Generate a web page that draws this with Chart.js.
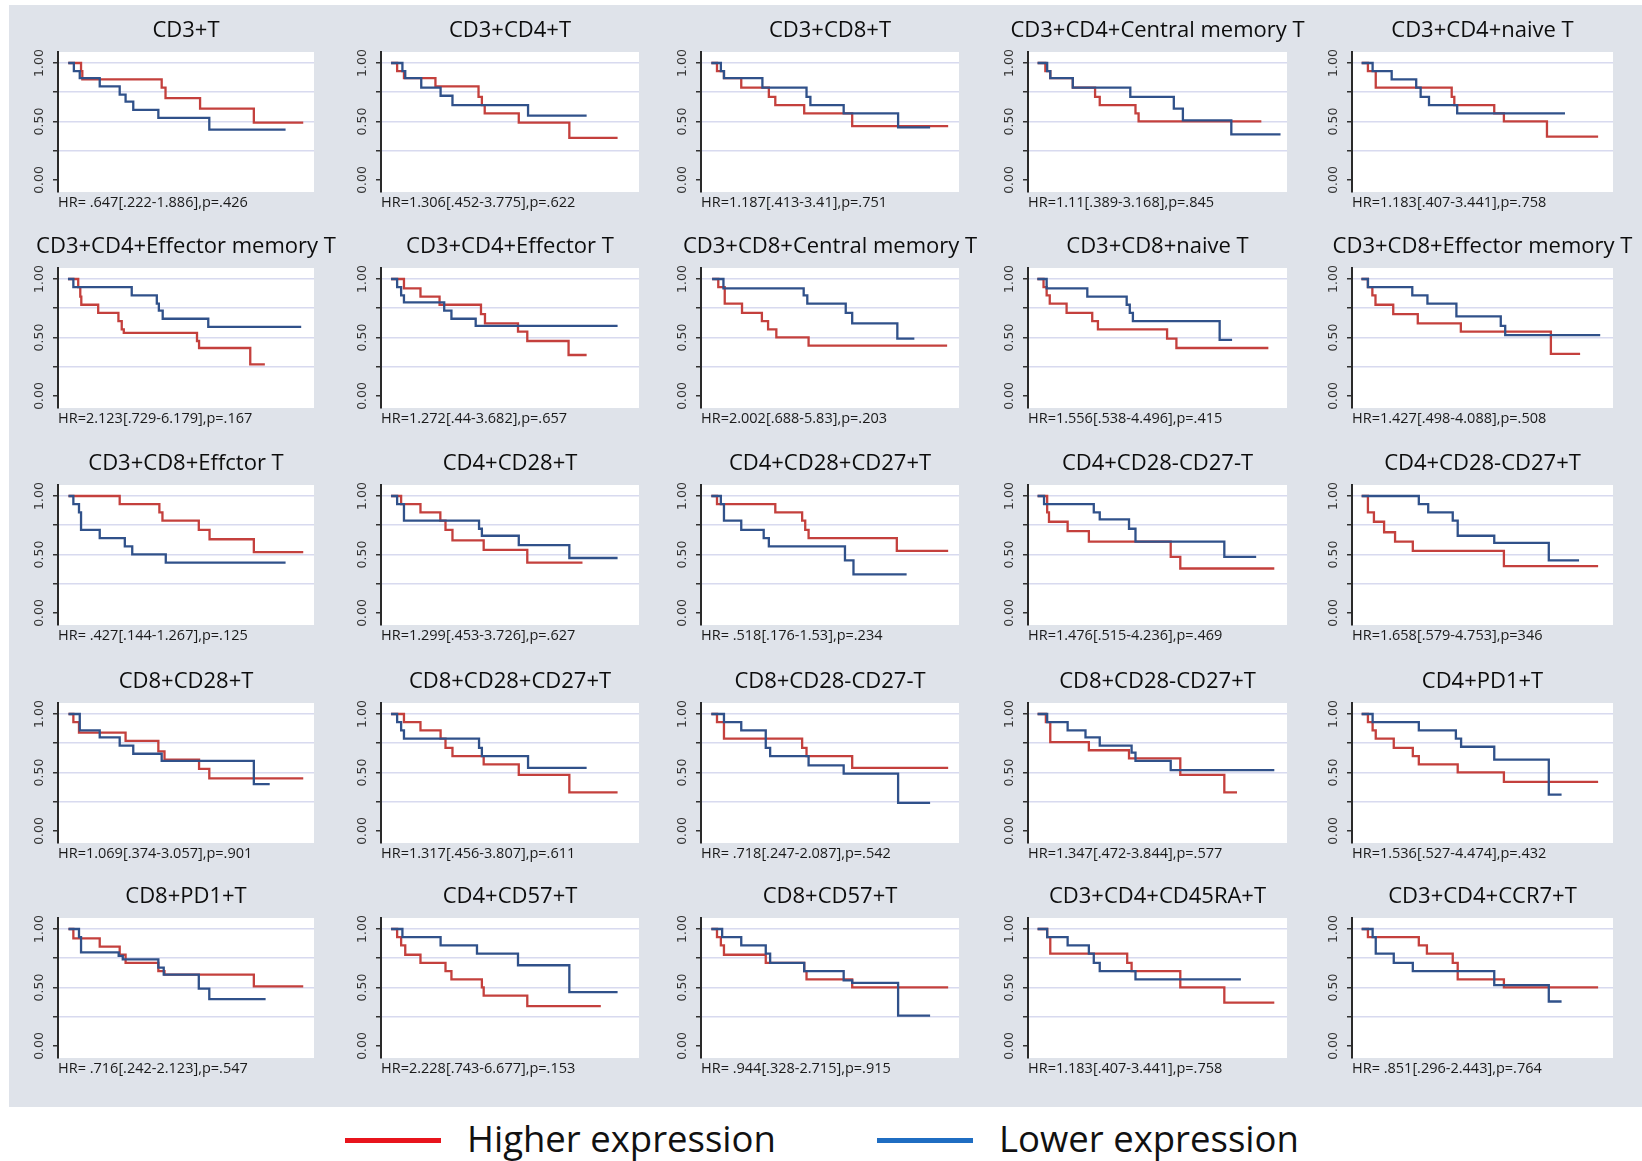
<!DOCTYPE html>
<html>
<head>
<meta charset="utf-8">
<script src="https://cdn.jsdelivr.net/npm/chart.js@4.4.1/dist/chart.umd.min.js"></script>
<style>
  body { margin: 0; width: 1642px; height: 1161px; background: #fff; position: relative; overflow: hidden; }
  #bg { position: absolute; left: 9px; top: 5px; width: 1633px; height: 1102px; background: #dfe3ea; }
  canvas.km { position: absolute; }
  .leg { position: absolute; top: 1114px; font-family: 'Open Sans', sans-serif; font-size: 36.5px; color: #111; line-height: 48px; }
  .leg span.bar { display: inline-block; width: 96px; height: 5px; vertical-align: middle; margin-right: 26px; position: relative; top: -2px; }
</style>
</head>
<body>
<div id="bg"></div>
<div class="leg" style="left:345px"><span class="bar" style="background:#e8141c"></span>Higher expression</div>
<div class="leg" style="left:877px"><span class="bar" style="background:#1f6dc2"></span>Lower expression</div>
<script>
// Kaplan-Meier panels, 5 x 5
const titles = [
  'CD3+T', 'CD3+CD4+T', 'CD3+CD8+T', 'CD3+CD4+Central memory T', 'CD3+CD4+naive T',
  'CD3+CD4+Effector memory T', 'CD3+CD4+Effector T', 'CD3+CD8+Central memory T', 'CD3+CD8+naive T', 'CD3+CD8+Effector memory T',
  'CD3+CD8+Effctor T', 'CD4+CD28+T', 'CD4+CD28+CD27+T', 'CD4+CD28-CD27-T', 'CD4+CD28-CD27+T',
  'CD8+CD28+T', 'CD8+CD28+CD27+T', 'CD8+CD28-CD27-T', 'CD8+CD28-CD27+T', 'CD4+PD1+T',
  'CD8+PD1+T', 'CD4+CD57+T', 'CD8+CD57+T', 'CD3+CD4+CD45RA+T', 'CD3+CD4+CCR7+T'
];

const hrLabels = [
  'HR= .647[.222-1.886],p=.426', 'HR=1.306[.452-3.775],p=.622', 'HR=1.187[.413-3.41],p=.751', 'HR=1.11[.389-3.168],p=.845', 'HR=1.183[.407-3.441],p=.758',
  'HR=2.123[.729-6.179],p=.167', 'HR=1.272[.44-3.682],p=.657', 'HR=2.002[.688-5.83],p=.203', 'HR=1.556[.538-4.496],p=.415', 'HR=1.427[.498-4.088],p=.508',
  'HR= .427[.144-1.267],p=.125', 'HR=1.299[.453-3.726],p=.627', 'HR= .518[.176-1.53],p=.234', 'HR=1.476[.515-4.236],p=.469', 'HR=1.658[.579-4.753],p=346',
  'HR=1.069[.374-3.057],p=.901', 'HR=1.317[.456-3.807],p=.611', 'HR= .718[.247-2.087],p=.542', 'HR=1.347[.472-3.844],p=.577', 'HR=1.536[.527-4.474],p=.432',
  'HR= .716[.242-2.123],p=.547', 'HR=2.228[.743-6.677],p=.153', 'HR= .944[.328-2.715],p=.915', 'HR=1.183[.407-3.441],p=.758', 'HR= .851[.296-2.443],p=.764'
];

// higher expression (red): step times and survival
const highTime = [
  [4, 9, 9.5, 40.5, 42, 55.5, 76.5, 95.8],
  [3.9, 6.25, 8.9, 21.1, 37.8, 39.1, 40.2, 53.4, 73, 91.7],
  [4, 6.2, 8.9, 15.6, 26.3, 28.8, 40, 58.6, 95.8],
  [3.7, 6.7, 8.6, 17.3, 25.9, 27.7, 41.5, 42.7, 90.1],
  [3.7, 6.1, 9.1, 38.2, 39.2, 54.5, 58.2, 74.7, 94.3],
  [3.9, 7.9, 8.7, 9.1, 15.7, 23.6, 24.9, 25.7, 54.3, 55.1, 75.1, 80.8],
  [3.9, 8.9, 15.3, 22.7, 38.75, 40.3, 53.1, 56.7, 72.7, 79.7],
  [4.3, 6.7, 9.2, 15.9, 23.6, 26, 29.2, 41.7, 95.4],
  [3.6, 6, 7.2, 8.4, 14.9, 24.8, 27, 53.7, 57.3, 92.8],
  [3.6, 6.1, 7.8, 9, 15.8, 25.2, 41.7, 76.2, 87.4],
  [4.1, 24.1, 39.6, 40.8, 55, 59.2, 76.5, 95.8],
  [3.9, 7.8, 15.3, 23, 25, 27.7, 39.8, 56.7, 78.1],
  [4, 6.2, 28.8, 39.2, 40.4, 41.7, 75.9, 95.8],
  [3.7, 7.4, 8.1, 15.3, 23.5, 55.1, 58.8, 95.1],
  [3.7, 6.1, 8.4, 12.3, 16.5, 23.3, 58.2, 94.3],
  [4.1, 6, 8.2, 26.4, 39.2, 41.6, 55.1, 59.1, 95.8],
  [3.9, 8.9, 15.3, 23.1, 25, 27.7, 39.8, 53.4, 73, 91.7],
  [4, 6.2, 8.9, 39.2, 40.9, 58.6, 95.8],
  [3.7, 6.9, 8.6, 23.5, 39, 58.8, 75.8, 80.7],
  [3.7, 6.1, 7.9, 9.1, 16, 23.3, 25.6, 40.5, 58.2, 94.3],
  [4.1, 6, 16.3, 24.1, 26.4, 39.2, 41.6, 76.5, 95.8],
  [3.9, 6.25, 7.8, 9.4, 15.3, 25, 27.3, 39.1, 39.8, 56.7, 85.2],
  [4, 6.2, 7.7, 8.9, 25.1, 40, 40.9, 58.6, 95.8],
  [3.7, 7.4, 8.6, 38.3, 40, 58.8, 75.8, 95.1],
  [3.7, 6.1, 25.6, 28.7, 38.6, 40.5, 58.2, 94.3]
];
const highSurv = [
  [1, 0.93, 0.86, 0.79, 0.70, 0.61, 0.49, 0.49],
  [1, 0.93, 0.87, 0.80, 0.71, 0.64, 0.57, 0.49, 0.36, 0.36],
  [1, 0.93, 0.87, 0.79, 0.71, 0.64, 0.57, 0.46, 0.46],
  [1, 0.93, 0.87, 0.79, 0.71, 0.64, 0.57, 0.50, 0.50],
  [1, 0.93, 0.79, 0.71, 0.64, 0.57, 0.50, 0.37, 0.37],
  [1, 0.93, 0.85, 0.78, 0.71, 0.64, 0.57, 0.54, 0.47, 0.41, 0.27, 0.27],
  [1, 0.92, 0.85, 0.78, 0.70, 0.62, 0.55, 0.47, 0.35, 0.35],
  [1, 0.93, 0.79, 0.71, 0.64, 0.57, 0.50, 0.43, 0.43],
  [1, 0.93, 0.86, 0.79, 0.71, 0.64, 0.57, 0.49, 0.41, 0.41],
  [1, 0.93, 0.86, 0.78, 0.70, 0.62, 0.55, 0.36, 0.36],
  [1, 0.93, 0.86, 0.79, 0.71, 0.63, 0.52, 0.52],
  [1, 0.93, 0.86, 0.79, 0.71, 0.62, 0.54, 0.43, 0.43],
  [1, 0.93, 0.86, 0.79, 0.71, 0.64, 0.53, 0.53],
  [1, 0.86, 0.78, 0.70, 0.61, 0.48, 0.38, 0.38],
  [1, 0.86, 0.78, 0.69, 0.61, 0.53, 0.40, 0.40],
  [1, 0.93, 0.84, 0.77, 0.68, 0.61, 0.53, 0.45, 0.45],
  [1, 0.93, 0.86, 0.79, 0.71, 0.64, 0.57, 0.48, 0.33, 0.33],
  [1, 0.93, 0.79, 0.71, 0.64, 0.54, 0.54],
  [1, 0.93, 0.76, 0.69, 0.62, 0.48, 0.33, 0.33],
  [1, 0.93, 0.86, 0.79, 0.71, 0.64, 0.57, 0.50, 0.42, 0.42],
  [1, 0.92, 0.85, 0.78, 0.71, 0.64, 0.61, 0.51, 0.51],
  [1, 0.93, 0.86, 0.78, 0.71, 0.64, 0.57, 0.50, 0.43, 0.34, 0.34],
  [1, 0.93, 0.86, 0.78, 0.71, 0.64, 0.57, 0.50, 0.50],
  [1, 0.93, 0.79, 0.71, 0.64, 0.50, 0.37, 0.37],
  [1, 0.93, 0.86, 0.79, 0.71, 0.57, 0.50, 0.50]
];

// lower expression (blue)
const lowTime = [
  [4, 6.2, 8.5, 16.3, 24.1, 26.4, 29.4, 39.2, 59.1, 88.9],
  [3.9, 8.3, 9.4, 15.6, 23.1, 27.7, 57, 79.7],
  [4, 7.7, 8.9, 23.8, 40.9, 42.4, 55.3, 76.4, 88.8],
  [3.7, 7.4, 8.6, 17.3, 39.5, 56.3, 59.8, 78.5, 97.5],
  [3.7, 7.9, 15.2, 24.6, 26.3, 29.5, 40.3, 81.6],
  [3.9, 6, 28.8, 38.6, 39.4, 40.9, 58.7, 95],
  [3.9, 6.25, 7.8, 8.9, 24.5, 27.3, 36.7, 91.7],
  [4.3, 8.7, 39.8, 41.2, 56.1, 58.6, 76.1, 82.7],
  [3.6, 7.2, 22.9, 38.1, 39.3, 40.5, 74, 78.8],
  [3.6, 6.1, 23.1, 28.9, 40, 57, 58.7, 95.1],
  [4.1, 6, 8.2, 9, 16.3, 26.1, 29, 42.1, 88.9],
  [3.9, 6.25, 8.9, 38, 39.1, 53.4, 73, 91.7],
  [4, 7.7, 8.9, 15.6, 24.3, 26.3, 55.8, 59.1, 79.7],
  [3.7, 6.2, 25.4, 27.7, 39, 41.5, 75.8, 88.1],
  [3.7, 25.6, 29.2, 38.6, 40.5, 54.5, 75.4, 87],
  [4.1, 8.5, 16.3, 24.1, 29.4, 40.5, 76.5, 82.7],
  [3.9, 6.25, 7.8, 8.9, 38, 39.1, 57, 79.7],
  [4, 8.9, 15.6, 25.1, 26.8, 41.7, 55.3, 76.4, 88.8],
  [3.7, 7.4, 15.3, 22.2, 27.7, 40, 41.5, 55.1, 95.1],
  [3.7, 7.9, 25.6, 39.8, 41.8, 54.5, 75.4, 80.3],
  [4.1, 8.2, 9, 23.7, 25.3, 39.2, 41.3, 55, 59.1, 81.1],
  [3.9, 8.3, 23.1, 37.2, 53.1, 73, 91.7],
  [4, 8.2, 15.6, 25.1, 26.8, 40, 55.3, 58.6, 76.4, 88.8],
  [3.7, 7.4, 15.3, 23.5, 25.4, 27.7, 41.5, 82.2],
  [3.7, 7.9, 9.1, 16, 23.3, 54.5, 75.4, 80.3]
];
const lowSurv = [
  [1, 0.93, 0.87, 0.80, 0.73, 0.67, 0.60, 0.53, 0.43, 0.43],
  [1, 0.93, 0.87, 0.79, 0.72, 0.64, 0.55, 0.55],
  [1, 0.93, 0.87, 0.79, 0.71, 0.64, 0.57, 0.45, 0.45],
  [1, 0.93, 0.87, 0.79, 0.71, 0.61, 0.51, 0.39, 0.39],
  [1, 0.93, 0.86, 0.79, 0.71, 0.64, 0.57, 0.57],
  [1, 0.93, 0.86, 0.79, 0.73, 0.66, 0.59, 0.59],
  [1, 0.93, 0.86, 0.80, 0.73, 0.66, 0.60, 0.60],
  [1, 0.92, 0.86, 0.79, 0.71, 0.62, 0.49, 0.49],
  [1, 0.92, 0.85, 0.78, 0.71, 0.64, 0.48, 0.48],
  [1, 0.93, 0.86, 0.79, 0.68, 0.60, 0.52, 0.52],
  [1, 0.93, 0.86, 0.71, 0.64, 0.57, 0.50, 0.43, 0.43],
  [1, 0.93, 0.79, 0.72, 0.66, 0.58, 0.47, 0.47],
  [1, 0.93, 0.79, 0.71, 0.64, 0.57, 0.45, 0.33, 0.33],
  [1, 0.93, 0.86, 0.80, 0.72, 0.61, 0.48, 0.48],
  [1, 0.93, 0.86, 0.79, 0.66, 0.60, 0.45, 0.45],
  [1, 0.86, 0.80, 0.73, 0.66, 0.60, 0.40, 0.40],
  [1, 0.93, 0.86, 0.79, 0.71, 0.64, 0.54, 0.54],
  [1, 0.93, 0.86, 0.71, 0.64, 0.56, 0.49, 0.24, 0.24],
  [1, 0.93, 0.86, 0.80, 0.73, 0.67, 0.60, 0.52, 0.52],
  [1, 0.93, 0.86, 0.79, 0.72, 0.61, 0.31, 0.31],
  [1, 0.93, 0.80, 0.77, 0.74, 0.67, 0.61, 0.49, 0.40, 0.40],
  [1, 0.93, 0.86, 0.79, 0.69, 0.46, 0.46],
  [1, 0.93, 0.86, 0.79, 0.71, 0.64, 0.56, 0.54, 0.26, 0.26],
  [1, 0.93, 0.86, 0.79, 0.71, 0.64, 0.57, 0.57],
  [1, 0.93, 0.79, 0.71, 0.64, 0.52, 0.38, 0.38]
];

const yTicks = [0, 0.25, 0.5, 0.75, 1];

// page layout
const colAxisX = [58, 381, 701, 1028, 1352];
const colWidth = [256, 258, 258, 259, 261];
const rowTop = [52, 268, 485, 703, 918];
const plotH = 140;
const M = 45; // side margin of each canvas

const redLine = '#c4403d';
const blueLine = '#30518a';

function pts(t, s) {
  return t.map((x, i) => ({ x: x, y: s[i] }));
}

const whiteArea = {
  id: 'whiteArea',
  beforeDraw(chart) {
    const a = chart.chartArea;
    chart.ctx.save();
    chart.ctx.fillStyle = '#ffffff';
    chart.ctx.fillRect(a.left, a.top, a.right - a.left, a.bottom - a.top);
    chart.ctx.restore();
  }
};

titles.forEach((title, i) => {
  const r = Math.floor(i / 5), c = i % 5;
  const w = M + colWidth[c] + M;
  const h = M + plotH + 40;
  const cv = document.createElement('canvas');
  cv.className = 'km';
  cv.width = w; cv.height = h;
  cv.style.left = (colAxisX[c] - M) + 'px';
  cv.style.top = (rowTop[r] - M) + 'px';
  cv.style.width = w + 'px'; cv.style.height = h + 'px';
  document.body.appendChild(cv);

  new Chart(cv.getContext('2d'), {
    type: 'line',
    data: {
      datasets: [
        { label: 'Lower expression', data: pts(lowTime[i], lowSurv[i]), borderColor: blueLine, borderWidth: 2.3, stepped: 'before', pointRadius: 0, fill: false },
        { label: 'Higher expression', data: pts(highTime[i], highSurv[i]), borderColor: redLine, borderWidth: 2.3, stepped: 'before', pointRadius: 0, fill: false }
      ]
    },
    options: {
      responsive: false,
      animation: false,
      devicePixelRatio: 1,
      layout: { padding: 0 },
      plugins: {
        legend: { display: false },
        tooltip: { enabled: false },
        title: {
          display: true, text: title, color: '#0d0d0d',
          font: { family: 'Open Sans', size: 22, weight: 'normal', lineHeight: 1.2 },
          padding: { top: 10.5, bottom: 8.1 }
        }
      },
      scales: {
        x: {
          type: 'linear', min: 0, max: 100,
          ticks: { display: false },
          grid: { display: false },
          border: { display: false },
          title: {
            display: true, text: hrLabels[i], align: 'start', color: '#1a1a1a',
            font: { family: 'Open Sans', size: 14.5, lineHeight: 1.2 },
            padding: { top: 0, bottom: 20.3 }
          },
          afterFit(s) { s.height = 40; }
        },
        y: {
          min: -0.103, max: 1.094,
          afterBuildTicks(s) { s.ticks = yTicks.map(v => ({ value: v })); },
          ticks: {
            minRotation: 90, maxRotation: 90, crossAlign: 'center', padding: -1,
            color: '#333', font: { family: 'DejaVu Sans', size: 12.5 },
            callback: v => (v === 0 || v === 0.5 || v === 1) ? v.toFixed(2) : ''
          },
          grid: {
            color: ctx => (ctx.tick && ctx.tick.value === 0) ? 'rgba(0,0,0,0)' : '#d8daef',
            tickColor: '#333', tickLength: 5, lineWidth: 1.5
          },
          border: { display: true, color: '#2a2a2a', width: 2 },
          afterFit(s) { s.width = M; }
        },
        yR: {
          position: 'right', min: 0, max: 1,
          ticks: { display: false }, grid: { display: false }, border: { display: false },
          afterFit(s) { s.width = M; }
        }
      }
    },
    plugins: [whiteArea]
  });
});
</script>
</body>
</html>
